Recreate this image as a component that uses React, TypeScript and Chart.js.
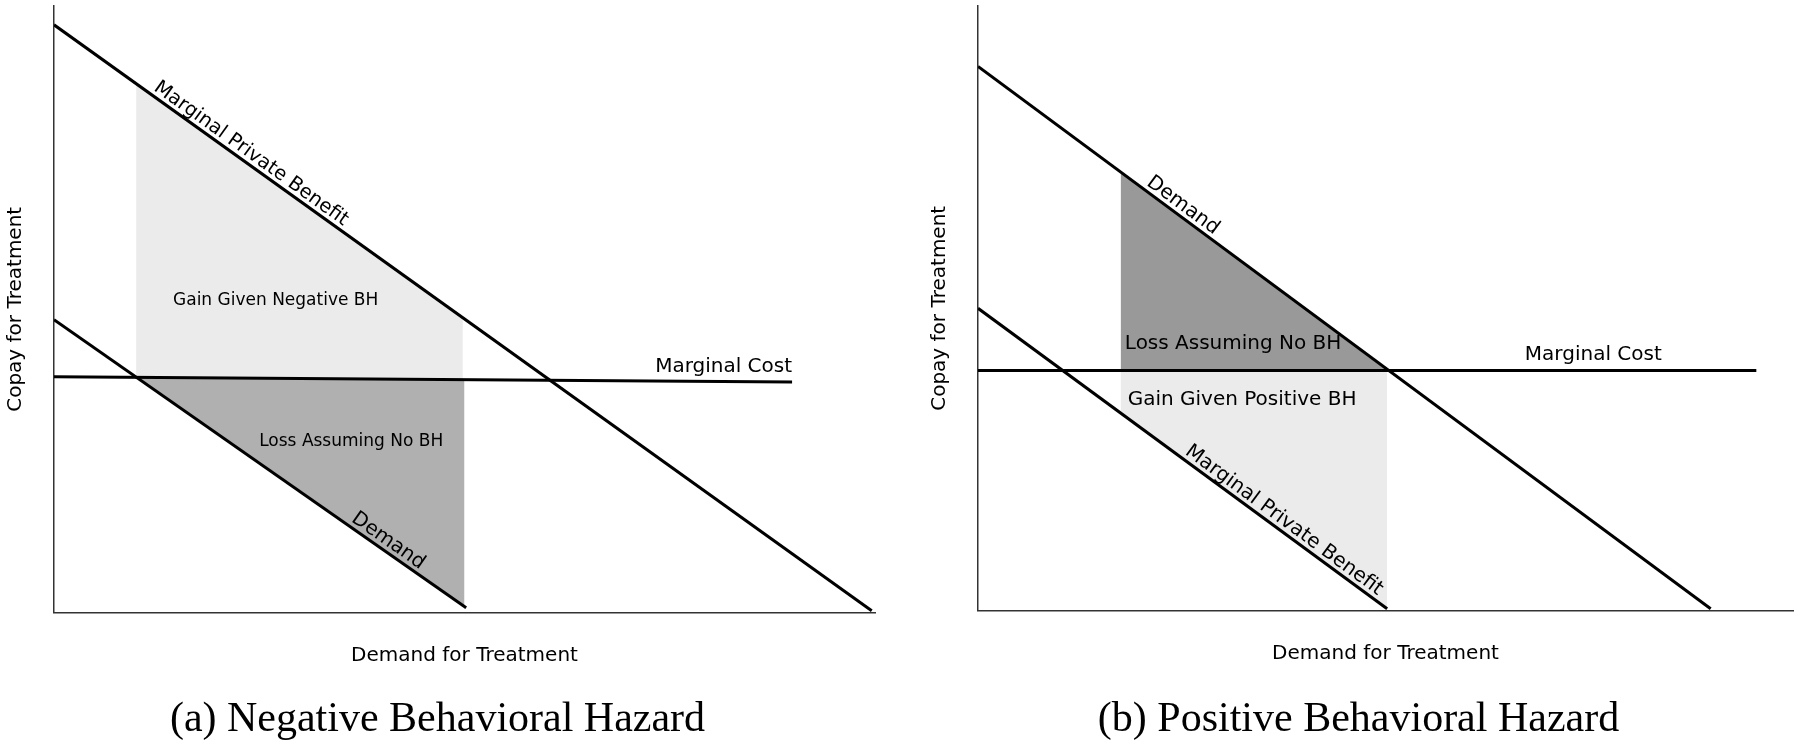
import React, { useEffect, useRef } from "react";
import { Chart, registerables } from "chart.js";

Chart.register(...registerables);

const SANS = "'DejaVu Sans', 'Noto Sans', sans-serif";
const SERIF = "'Liberation Serif', 'Times New Roman', serif";

// ---------- Panel (a): Negative Behavioral Hazard ----------
const A_MPB = [{ x: 0, y: 96.9 }, { x: 99.6, y: 0.3 }];
const A_MC = [{ x: 0, y: 38.9 }, { x: 89.9, y: 38.0 }];
const A_DEMAND = [{ x: 0, y: 48.3 }, { x: 50.2, y: 0.8 }];
const A_GAIN_TOP = [{ x: 10, y: 87.2 }, { x: 49.8, y: 48.6 }];
const A_GAIN_BOTTOM = [{ x: 10, y: 38.8 }, { x: 49.8, y: 38.5 }];
const A_LOSS_TOP = [{ x: 10, y: 38.8 }, { x: 50, y: 38.5 }];
const A_LOSS_BOTTOM = [{ x: 10, y: 38.8 }, { x: 50, y: 1.0 }];
const A_TEXTS = [
  { text: "Gain Given Negative BH", x: 27.0, y: 51.5, size: 17, align: "center" },
  { text: "Loss Assuming No BH", x: 36.2, y: 28.2, size: 17, align: "center" },
  { text: "Marginal Cost", x: 89.9, y: 40.6, size: 20, align: "right" },
];
const A_SLANTED = [
  { text: "Marginal Private Benefit", line: A_MPB, x: 23.3, size: 19.5 },
  { text: "Demand", line: A_DEMAND, x: 40.0, size: 20 },
];
const A_CAPTION = "(a) Negative Behavioral Hazard";

// ---------- Panel (b): Positive Behavioral Hazard ----------
const B_DEMAND = [{ x: 0, y: 90.0 }, { x: 89.9, y: 0.3 }];
const B_MPB = [{ x: 0, y: 50.0 }, { x: 50.2, y: 0.3 }];
const B_MC = [{ x: 0, y: 39.7 }, { x: 95.5, y: 39.7 }];
const B_LOSS_TOP = [{ x: 17.5, y: 72.5 }, { x: 50.2, y: 39.7 }];
const B_LOSS_BOTTOM = [{ x: 17.5, y: 39.7 }, { x: 50.2, y: 39.7 }];
const B_GAIN_TOP = [{ x: 17.5, y: 39.7 }, { x: 50.2, y: 39.7 }];
const B_GAIN_BOTTOM = [{ x: 17.5, y: 32.7 }, { x: 50.2, y: 0.3 }];
const B_TEXTS = [
  { text: "Loss Assuming No BH", x: 31.3, y: 44.2, size: 20, align: "center" },
  { text: "Gain Given Positive BH", x: 32.4, y: 34.8, size: 20, align: "center" },
  { text: "Marginal Cost", x: 75.5, y: 42.3, size: 20, align: "center" },
];
const B_SLANTED = [
  { text: "Demand", line: B_DEMAND, x: 24.4, size: 20 },
  { text: "Marginal Private Benefit", line: B_MPB, x: 36.8, size: 20 },
];
const B_CAPTION = "(b) Positive Behavioral Hazard";

const X_TITLE = "Demand for Treatment";
const Y_TITLE = "Copay for Treatment";

const LIGHT = "#ebebeb";
const DARK_A = "#b0b0b0";
const DARK_B = "#999999";

function lineDs(data: any[]) {
  return {
    data,
    borderColor: "#000",
    borderWidth: 3,
    pointRadius: 0,
    fill: false,
    tension: 0,
  };
}

function fillDs(data: any[], target: number | false, color: string) {
  return {
    data,
    borderColor: "rgba(0,0,0,0)",
    borderWidth: 1,
    pointRadius: 0,
    backgroundColor: color,
    fill: target === false ? false : { target },
    tension: 0,
  };
}

function labelPlugin(texts: any[], slanted: any[]) {
  return {
    id: "labels",
    afterDatasetsDraw(chart: any) {
      const { ctx } = chart;
      const xs = chart.scales.x;
      const ys = chart.scales.y;
      ctx.save();
      ctx.fillStyle = "#000";
      for (const t of texts) {
        ctx.font = `${t.size}px ${SANS}`;
        ctx.textAlign = t.align;
        ctx.textBaseline = "middle";
        ctx.fillText(t.text, xs.getPixelForValue(t.x), ys.getPixelForValue(t.y));
      }
      for (const s of slanted) {
        const p0 = s.line[0];
        const p1 = s.line[1];
        const x0 = xs.getPixelForValue(p0.x);
        const y0 = ys.getPixelForValue(p0.y);
        const x1 = xs.getPixelForValue(p1.x);
        const y1 = ys.getPixelForValue(p1.y);
        const ang = Math.atan2(y1 - y0, x1 - x0);
        const px = xs.getPixelForValue(s.x);
        const py = y0 + ((px - x0) * (y1 - y0)) / (x1 - x0);
        ctx.save();
        ctx.translate(px, py);
        ctx.rotate(ang);
        ctx.font = `${s.size}px ${SANS}`;
        ctx.textAlign = "center";
        ctx.textBaseline = "alphabetic";
        ctx.fillText(s.text, 0, -5);
        ctx.restore();
      }
      ctx.restore();
    },
  };
}

function makeConfig(
  datasets: any[],
  texts: any[],
  slanted: any[],
  caption: string,
  padRight: number,
  xPadBottom: number
): any {
  return {
    type: "line",
    data: { datasets },
    options: {
      animation: false,
      responsive: false,
      devicePixelRatio: 1,
      events: [],
      layout: { padding: { left: 0, right: padRight, top: 6, bottom: 0 } },
      plugins: {
        legend: { display: false },
        tooltip: { enabled: false },
        title: {
          display: true,
          position: "bottom",
          text: caption,
          color: "#000",
          font: { family: SERIF, size: 42, weight: "normal" },
          padding: { top: 9, bottom: 2 },
        },
      },
      scales: {
        x: {
          type: "linear",
          min: 0,
          max: 100,
          grid: { display: false, drawTicks: false },
          border: { display: true, color: "#333", width: 1.5 },
          ticks: { display: false },
          title: {
            display: true,
            text: X_TITLE,
            color: "#000",
            font: { family: SANS, size: 20 },
            padding: { top: 31, bottom: xPadBottom },
          },
        },
        y: {
          type: "linear",
          min: 0,
          max: 100,
          grid: { display: false, drawTicks: false },
          border: { display: true, color: "#333", width: 1.5 },
          ticks: { display: false },
          title: {
            display: true,
            text: Y_TITLE,
            color: "#000",
            font: { family: SANS, size: 20 },
            padding: { top: 3.5, bottom: 26.5 },
          },
        },
      },
    },
    plugins: [labelPlugin(texts, slanted)],
  };
}

function Panel(props: {
  left: number;
  width: number;
  config: any;
}) {
  const ref = useRef<HTMLCanvasElement | null>(null);
  useEffect(() => {
    if (!ref.current) return;
    const chart = new Chart(ref.current, props.config);
    return () => chart.destroy();
  }, []);
  return (
    <div style={{ position: "absolute", left: props.left, top: 0, width: props.width, height: 747 }}>
      <canvas ref={ref} width={props.width} height={747} style={{ display: "block" }} />
    </div>
  );
}

export default function App() {
  const configA = makeConfig(
    [
      lineDs(A_MPB), // 0
      lineDs(A_MC), // 1
      lineDs(A_DEMAND), // 2
      fillDs(A_GAIN_TOP, 4, LIGHT), // 3
      fillDs(A_GAIN_BOTTOM, false, LIGHT), // 4
      fillDs(A_LOSS_TOP, 6, DARK_A), // 5
      fillDs(A_LOSS_BOTTOM, false, DARK_A), // 6
    ],
    A_TEXTS,
    A_SLANTED,
    A_CAPTION,
    25,
    18
  );
  const configB = makeConfig(
    [
      lineDs(B_DEMAND), // 0
      lineDs(B_MC), // 1
      lineDs(B_MPB), // 2
      fillDs(B_LOSS_TOP, 4, DARK_B), // 3
      fillDs(B_LOSS_BOTTOM, false, DARK_B), // 4
      fillDs(B_GAIN_TOP, 6, LIGHT), // 5
      fillDs(B_GAIN_BOTTOM, false, LIGHT), // 6
    ],
    B_TEXTS,
    B_SLANTED,
    B_CAPTION,
    7,
    20
  );
  return (
    <div style={{ position: "fixed", left: 0, top: 0, width: 1800, height: 747, background: "#fff" }}>
      <Panel left={0} width={900} config={configA} />
      <Panel left={924} width={876} config={configB} />
    </div>
  );
}
